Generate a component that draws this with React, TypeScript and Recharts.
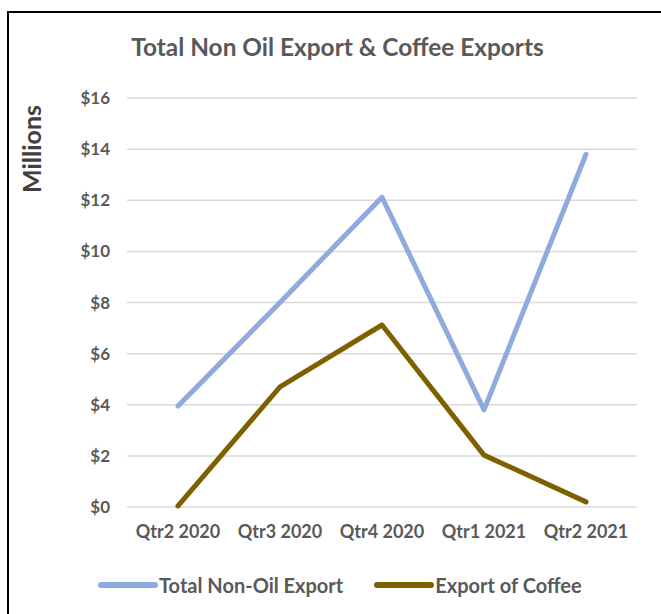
import { LineChart, Line, XAxis, YAxis, CartesianGrid } from 'recharts';

const quarters = ['Qtr2 2020', 'Qtr3 2020', 'Qtr4 2020', 'Qtr1 2021', 'Qtr2 2021'];
const nonOilExport = [3.95, 8.0, 12.12, 3.8, 13.8];
const coffeeExport = [0.04, 4.7, 7.12, 2.03, 0.2];
const yTicks = [0, 2, 4, 6, 8, 10, 12, 14, 16];

const SERIES = [
  { key: 'nonOil', name: 'Total Non-Oil Export', color: '#8faadc' },
  { key: 'coffee', name: 'Export of Coffee', color: '#7f6000' },
];

const data = quarters.map((q, i) => ({
  quarter: q,
  nonOil: nonOilExport[i],
  coffee: coffeeExport[i],
}));

const FONT = 'Lato, "Open Sans", sans-serif';
const GRAY = '#595959';

export default function App() {
  return (
    <div style={{ position: 'relative', width: 661, height: 614, overflow: 'hidden', background: '#fff', fontFamily: FONT }}>
      <style>{'body{margin:0;overflow:hidden}'}</style>
      <div style={{ position: 'absolute', left: 7, top: 11, width: 700, height: 700, border: '2px solid #000' }} />

      <div style={{ position: 'absolute', left: 0, top: 0 }}>
        <LineChart width={661} height={614} data={data} margin={{ top: 98, right: 24, bottom: 77, left: 77 }}>
          <CartesianGrid vertical={false} stroke="#d9d9d9" strokeWidth={1.5} />
          <XAxis
            dataKey="quarter"
            height={30}
            axisLine={false}
            tickLine={false}
            padding={{ left: 51, right: 51 }}
            tickMargin={12}
            tick={{ fill: GRAY, fontSize: 18, fontWeight: 700, fontFamily: FONT }}
            interval={0}
          />
          <YAxis
            width={50}
            domain={[0, 16]}
            ticks={yTicks}
            axisLine={false}
            tickLine={false}
            tickMargin={11}
            tickFormatter={(v: number) => `$${v}`}
            tick={{ fill: GRAY, fontSize: 17, fontWeight: 700, fontFamily: FONT }}
          />
          {SERIES.map((s) => (
            <Line
              key={s.key}
              type="linear"
              dataKey={s.key}
              name={s.name}
              stroke={s.color}
              strokeWidth={5}
              strokeLinecap="round"
              strokeLinejoin="round"
              dot={false}
              activeDot={false}
              isAnimationActive={false}
            />
          ))}
        </LineChart>
      </div>

      <div style={{ position: 'absolute', left: 0, width: 675, top: 32, textAlign: 'center', fontSize: 24.4, fontWeight: 700, color: GRAY }}>
        Total Non Oil Export &amp; Coffee Exports
      </div>

      <div
        style={{
          position: 'absolute',
          left: 31,
          top: 149,
          transform: 'translate(-50%, -50%) rotate(-90deg)',
          fontSize: 25,
          fontWeight: 700,
          color: '#404040',
          whiteSpace: 'nowrap',
        }}
      >
        Millions
      </div>

      <div style={{ position: 'absolute', left: 97, top: 573, display: 'flex', alignItems: 'center', fontSize: 20, fontWeight: 700, color: GRAY }}>
        {SERIES.map((s, i) => (
          <div key={s.key} style={{ display: 'flex', alignItems: 'center', marginLeft: i === 0 ? 0 : 30 }}>
            <svg width={62} height={10}>
              <line x1={4} y1={5} x2={58} y2={5} stroke={s.color} strokeWidth={6} strokeLinecap="round" />
            </svg>
            <span>{s.name}</span>
          </div>
        ))}
      </div>
    </div>
  );
}
